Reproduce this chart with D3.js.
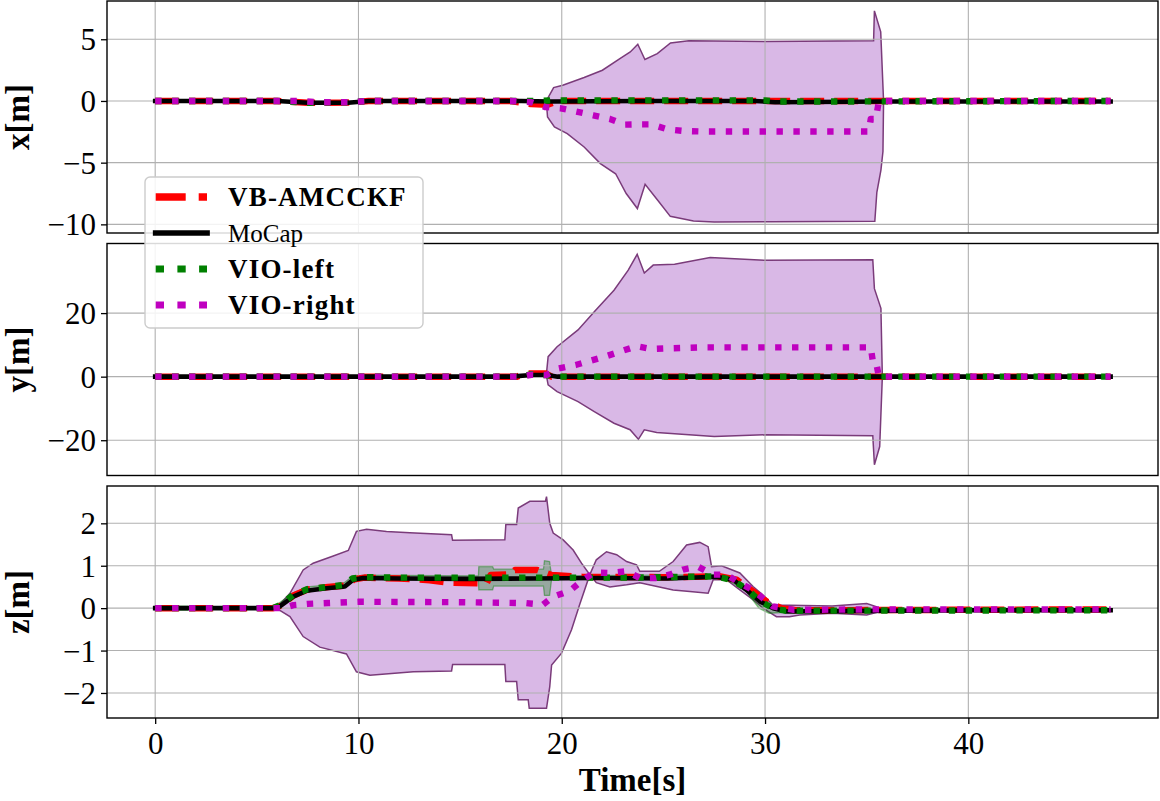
<!DOCTYPE html>
<html>
<head>
<meta charset="utf-8">
<script src="https://cdn.jsdelivr.net/npm/d3@7"></script>
<style>
  body { margin: 0; background: #fff; }
  svg { display: block; }
  text { font-family: "Liberation Serif", "DejaVu Serif", serif; }
</style>
</head>
<body>
<svg id="chart" width="1160" height="801"></svg>
<script>
// shared time axis
var timeTicks = [0, 10, 20, 30, 40];
var timeDomain = [-2.37, 49.33];

// ---- x panel ----
var xTicks = [-10, -5, 0, 5];
var xDomain = [-10.7, 8.1];
var xMoCap = [[0,0],[6,0],[7.5,-0.15],[9.5,-0.15],[10.5,0],[18,0],[19.5,-0.05],[24,0],[29.5,0],[30.5,-0.1],[36,-0.05],[47,-0.05]];
var xVB = [[0,0],[6,0],[7.5,-0.15],[9.5,-0.12],[10.5,0],[17.5,0],[18.5,-0.25],[19.3,-0.3],[19.8,0],[47,0]];
var xLeft = [[0,0],[6,0],[7.5,-0.15],[9.5,-0.1],[10.5,0],[19,0],[19.5,0.05],[30,0.05],[30.5,-0.05],[47,0]];
var xRight = [[0,0],[7,0],[8,-0.1],[9.5,-0.1],[10.5,0],[17.5,0],[18.5,-0.1],[19.2,-0.5],[19.96,-0.6],[20.7,-0.86],[21.55,-1.16],[22.37,-1.46],[23.1,-1.92],[23.7,-1.9],[24.4,-1.9],[25.2,-2.3],[26,-2.43],[26.8,-2.47],[35.1,-2.47],[35.2,-1.46],[35.45,-1.46],[35.6,0],[47,0]];
var xRightUpper = [[19.24,0],[19.6,1.08],[20.05,1.27],[21.1,1.9],[22,2.49],[22.86,3.44],[23.37,3.97],[23.74,4.6],[24.09,3.36],[24.7,3.84],[25.35,4.7],[26.25,4.87],[30,4.82],[35.34,4.87],[35.38,7.3],[35.69,5.6],[35.83,0]];
var xRightLower = [[19.24,0],[19.3,-1.3],[19.64,-2.1],[20.27,-2.65],[21.1,-3.73],[21.9,-5.08],[22.65,-5.9],[23.17,-7.5],[23.72,-8.72],[24.1,-6.76],[24.72,-8.05],[25.34,-9.35],[26.48,-9.73],[27.5,-9.8],[30.3,-9.78],[35.4,-9.75],[35.5,-7.4],[35.7,-5.6],[35.8,-4.1],[35.83,0]];

// ---- y panel ----
var yTicks = [-20, 0, 20];
var yDomain = [-31.1, 41.9];
var yMoCap = [[0,0],[17.5,0],[18.5,0.5],[19.3,0.5],[19.8,0],[47,0]];
var yVB = [[0,0],[17.8,0],[18.2,1],[19.2,1],[19.5,0],[47,0]];
var yLeft = [[0,0],[18,0],[18.5,0.8],[19.2,0.5],[19.8,0],[47,0]];
var yRight = [[0,0],[18,0],[18.5,0.6],[19.24,0.5],[19.85,2.6],[20.68,3.66],[21.52,5.2],[22.26,6.6],[23.02,8.2],[23.69,9.6],[24.42,8.7],[25.22,8.9],[26.9,9.2],[35.2,9.2],[35.3,5],[35.45,5],[35.6,0],[47,0]];
var yRightUpper = [[19.24,0.5],[19.33,6.3],[19.77,9.4],[20.8,14.7],[21.6,20.4],[22.57,27.2],[23.27,33.5],[23.71,38.5],[24.06,32.6],[24.5,35.1],[25.55,35.4],[27.3,37.5],[30.03,36.6],[35.3,36.8],[35.38,27.7],[35.7,21.5],[35.77,0]];
var yRightLower = [[19.24,0.5],[19.33,-2.6],[19.77,-4.7],[20.8,-7.85],[21.6,-11],[22.57,-14.65],[23.36,-16.7],[23.77,-19.7],[24.06,-16.7],[24.67,-17.6],[27.5,-18.8],[30.03,-18.3],[35.3,-18.6],[35.38,-27.7],[35.64,-22],[35.77,0]];

// ---- z panel ----
var zTicks = [-2, -1, 0, 1, 2];
var zDomain = [-2.59, 2.88];
var zMoCap = [[0,0],[5.8,0],[6.13,0.04],[6.79,0.27],[7.45,0.41],[8.43,0.47],[9.33,0.51],[9.74,0.67],[10.23,0.71],[12,0.7],[15.3,0.69],[18.6,0.7],[21.8,0.71],[25.2,0.7],[27.6,0.74],[28.43,0.67],[29.09,0.43],[29.74,0.16],[30.4,0],[31.06,-0.08],[33.3,-0.07],[40.3,-0.05],[47,-0.05]];
var zVB = [[0,0],[5.8,0],[6.2,0.06],[6.8,0.3],[7.5,0.44],[8.5,0.5],[9.3,0.53],[9.8,0.68],[10.3,0.72],[12,0.7],[13.5,0.66],[14.5,0.6],[16.3,0.58],[16.5,0.78],[17.5,0.8],[17.7,0.9],[18.8,0.9],[19.5,0.78],[21,0.74],[25,0.73],[27.8,0.75],[28.6,0.67],[29.4,0.4],[30.1,0.15],[30.8,0],[31.5,-0.05],[47,-0.03]];
var zLeft = [[0,0],[5.8,0],[6.2,0.08],[6.8,0.32],[7.5,0.45],[8.5,0.5],[9.3,0.55],[9.7,0.7],[10.3,0.73],[12,0.72],[15,0.72],[18,0.72],[20,0.72],[23,0.72],[25,0.73],[27.6,0.75],[28.4,0.66],[29.1,0.45],[29.8,0.15],[30.4,0],[31,-0.06],[47,-0.05]];
var zRight = [[0,0],[6.3,0],[6.8,0.07],[7.5,0.1],[8.5,0.12],[10,0.15],[15,0.14],[18.2,0.12],[19.07,0.08],[19.58,0.27],[20.4,0.41],[21.05,0.67],[21.6,0.84],[22.37,0.83],[23.2,0.87],[23.84,0.71],[24.6,0.71],[25.3,0.79],[25.97,0.91],[26.7,0.98],[27.45,0.79],[28.1,0.79],[28.76,0.59],[29.4,0.43],[29.9,0.23],[30.4,0.04],[31.4,-0.04],[35,-0.03],[47,-0.03]];
var zRightUpper = [[5.95,0],[6.63,0.35],[7.28,0.9],[7.77,1.06],[8.76,1.23],[9.5,1.36],[9.9,1.81],[10.4,1.86],[11.38,1.81],[12.53,1.78],[14.58,1.73],[14.63,1.6],[17.2,1.61],[17.25,1.97],[17.78,1.97],[17.86,2.36],[18.43,2.52],[19.2,2.52],[19.25,2.63],[19.41,2.0],[19.58,1.77],[20.07,1.61],[20.56,1.37],[20.97,1.06],[21.38,0.79],[21.7,1.14],[22.2,1.33],[22.7,1.26],[23.19,1.1],[23.68,1.02],[23.84,0.87],[24.8,0.87],[25.48,1.1],[26.14,1.49],[26.79,1.55],[27.2,1.45],[27.37,0.98],[27.86,1.0],[28.76,0.83],[29.41,0.51],[29.9,0.31],[30.4,0.07],[31.2,0.07],[33.3,0.05],[35,0.11],[35.5,0.03],[35.6,-0.03]];
var zRightLower = [[5.95,0],[6.63,-0.2],[7.28,-0.67],[8.1,-0.92],[9.41,-1.08],[9.9,-1.5],[10.56,-1.58],[12.7,-1.5],[14.58,-1.48],[14.63,-1.33],[17.2,-1.33],[17.25,-1.73],[17.78,-1.73],[17.86,-2.16],[18.35,-2.16],[18.4,-2.36],[19.25,-2.36],[19.41,-1.85],[19.5,-1.34],[19.99,-1.06],[20.48,-0.51],[20.89,0.1],[21.38,0.79],[21.7,0.6],[22.37,0.5],[23.19,0.55],[23.84,0.6],[24.8,0.5],[25.48,0.43],[26.3,0.39],[27.2,0.35],[27.45,0.67],[28.1,0.67],[28.76,0.43],[29.41,0.2],[29.9,0],[30.56,-0.2],[31.2,-0.2],[31.7,-0.16],[33.3,-0.12],[35,-0.16],[35.5,-0.1],[35.6,-0.03]];
var zLeftStartUpper = [[0,0.05],[1.6,0.05]];
var zLeftStartLower = [[0,-0.05],[1.6,-0.05]];
var zLeftUpper = [[5.8,0.02],[6.8,0.36],[7.5,0.5],[8.5,0.55],[9.3,0.6],[9.7,0.75],[10.3,0.78],[15.9,0.76],[15.92,0.98],[16.6,0.98],[16.65,0.92],[19.1,0.92],[19.15,1.12],[19.4,1.1],[19.5,0.76],[27.6,0.79],[28.4,0.7],[29.1,0.5],[29.7,0.25],[30.2,0.05],[31,-0.02]];
var zLeftLower = [[5.8,-0.02],[6.8,0.28],[7.5,0.4],[8.5,0.45],[9.3,0.5],[9.7,0.65],[10.3,0.68],[15.9,0.68],[15.92,0.43],[16.6,0.43],[16.65,0.52],[19.1,0.52],[19.15,0.3],[19.4,0.3],[19.5,0.68],[27.6,0.71],[28.4,0.6],[29.1,0.38],[29.7,0],[30.2,-0.12],[31,-0.1]];

// legend
var legendLabels = ["VB-AMCCKF", "MoCap", "VIO-left", "VIO-right"];

// layout
var plotLeft = 107, plotRight = 1158, panelH = 232;
var panelTops = [1, 243.5, 486];
var tickFont = 31;

var svg = d3.select("#chart");
var x = d3.scaleLinear().domain(timeDomain).range([plotLeft, plotRight]);

// line styles (plot and legend)
var styles = [
  {color: "#ff0000", width: 6.5, dash: "24,10", cap: "butt"},
  {color: "#000000", width: 4.6, dash: null, cap: "square"},
  {color: "#008000", width: 6.4, dash: "6.4,10.5", cap: "butt"},
  {color: "#bf00bf", width: 6.4, dash: "6.4,10.5", cap: "butt"}
];
var legendStyles = [
  {width: 7.5, dash: "30,13"},
  {width: 5.7, dash: null},
  {width: 7, dash: "8.3,13.4"},
  {width: 7, dash: "8.3,13.4"}
];

function bandPath(y, upper, lower) {
  var pts = upper.concat(lower.slice().reverse());
  return d3.line().x(function(d){ return x(d[0]); }).y(function(d){ return y(d[1]); })(pts) + "Z";
}

function drawPanel(idx, domain, ticks, label, series, rightBand, leftBands, isBottom) {
  var top = panelTops[idx];
  var y = d3.scaleLinear().domain(domain).range([top + panelH, top]);
  var g = svg.append("g");

  svg.append("clipPath").attr("id", "clip" + idx)
     .append("rect").attr("x", plotLeft).attr("y", top).attr("width", plotRight - plotLeft).attr("height", panelH);
  var inner = g.append("g").attr("clip-path", "url(#clip" + idx + ")");

  // VIO-right uncertainty
  inner.append("path")
       .attr("d", bandPath(y, rightBand[0], rightBand[1]))
       .attr("fill", "#d9b8e6")
       .attr("stroke", "#7a3b7a")
       .attr("stroke-width", 1.5);

  // VIO-left uncertainty
  leftBands.forEach(function(b){
    inner.append("path")
         .attr("d", bandPath(y, b[0], b[1]))
         .attr("fill", "green").attr("fill-opacity", 0.3)
         .attr("stroke", "green").attr("stroke-opacity", 0.45)
         .attr("stroke-width", 1.3);
  });

  // grid
  inner.selectAll(".vgrid").data(timeTicks).enter().append("line")
       .attr("x1", function(d){ return x(d); }).attr("x2", function(d){ return x(d); })
       .attr("y1", top).attr("y2", top + panelH)
       .attr("stroke", "#b0b0b0").attr("stroke-width", 1.1);
  inner.selectAll(".hgrid").data(ticks).enter().append("line")
       .attr("x1", plotLeft).attr("x2", plotRight)
       .attr("y1", function(d){ return y(d); }).attr("y2", function(d){ return y(d); })
       .attr("stroke", "#b0b0b0").attr("stroke-width", 1.1);

  var line = d3.line().x(function(d){ return x(d[0]); }).y(function(d){ return y(d[1]); });
  series.forEach(function(s, i){
    var st = styles[i];
    inner.append("path")
         .attr("d", line(s))
         .attr("fill", "none")
         .attr("stroke", st.color)
         .attr("stroke-width", st.width)
         .attr("stroke-dasharray", st.dash)
         .attr("stroke-linecap", st.cap)
         .attr("stroke-linejoin", "round");
  });

  // frame
  g.append("rect")
   .attr("x", plotLeft).attr("y", top).attr("width", plotRight - plotLeft).attr("height", panelH)
   .attr("fill", "none").attr("stroke", "#000").attr("stroke-width", 1.4);

  // y axis
  var ya = g.append("g").attr("transform", "translate(" + plotLeft + ",0)")
            .call(d3.axisLeft(y).tickValues(ticks).tickSize(6).tickPadding(5).tickFormat(d3.format("d")));
  ya.select(".domain").remove();
  ya.selectAll(".tick line").attr("stroke-width", 1.3);
  ya.selectAll(".tick text").attr("font-size", tickFont).attr("font-family", "Liberation Serif").attr("dy", "0.34em");

  g.append("text")
   .attr("transform", "translate(29," + (top + panelH / 2) + ") rotate(-90)")
   .attr("text-anchor", "middle")
   .attr("font-size", 33).attr("font-weight", "bold")
   .text(label);

  if (isBottom) {
    var xa = g.append("g").attr("transform", "translate(0," + (top + panelH) + ")")
              .call(d3.axisBottom(x).tickValues(timeTicks).tickSize(6).tickPadding(8).tickFormat(d3.format("d")));
    xa.select(".domain").remove();
    xa.selectAll(".tick line").attr("stroke-width", 1.3);
    xa.selectAll(".tick text").attr("font-size", tickFont).attr("font-family", "Liberation Serif");
    g.append("text")
     .attr("x", (plotLeft + plotRight) / 2).attr("y", 791)
     .attr("text-anchor", "middle")
     .attr("font-size", 33).attr("font-weight", "bold")
     .text("Time[s]");
  }
}

drawPanel(0, xDomain, xTicks, "x[m]", [xVB, xMoCap, xLeft, xRight], [xRightUpper, xRightLower], [], false);
drawPanel(1, yDomain, yTicks, "y[m]", [yVB, yMoCap, yLeft, yRight], [yRightUpper, yRightLower], [], false);
drawPanel(2, zDomain, zTicks, "z[m]", [zVB, zMoCap, zLeft, zRight], [zRightUpper, zRightLower],
          [[zLeftStartUpper, zLeftStartLower], [zLeftUpper, zLeftLower]], true);

// legend
var lg = svg.append("g");
lg.append("rect")
  .attr("x", 145).attr("y", 177).attr("width", 278).attr("height", 151).attr("rx", 5)
  .attr("fill", "#fff").attr("fill-opacity", 0.85)
  .attr("stroke", "#cccccc").attr("stroke-width", 1.4);
legendLabels.forEach(function(lbl, i){
  var cy = 197 + i * 36;
  var st = styles[i], ls = legendStyles[i];
  lg.append("line")
    .attr("x1", 155.7).attr("x2", 207).attr("y1", cy).attr("y2", cy)
    .attr("stroke", st.color).attr("stroke-width", ls.width)
    .attr("stroke-dasharray", ls.dash).attr("stroke-linecap", st.cap);
  lg.append("text")
    .attr("x", 228).attr("y", cy + 9)
    .attr("font-size", i === 1 ? 25 : 27)
    .attr("letter-spacing", i === 1 ? 0 : 1.2)
    .attr("font-weight", i === 1 ? "normal" : "bold")
    .text(lbl);
});
</script>
</body>
</html>
